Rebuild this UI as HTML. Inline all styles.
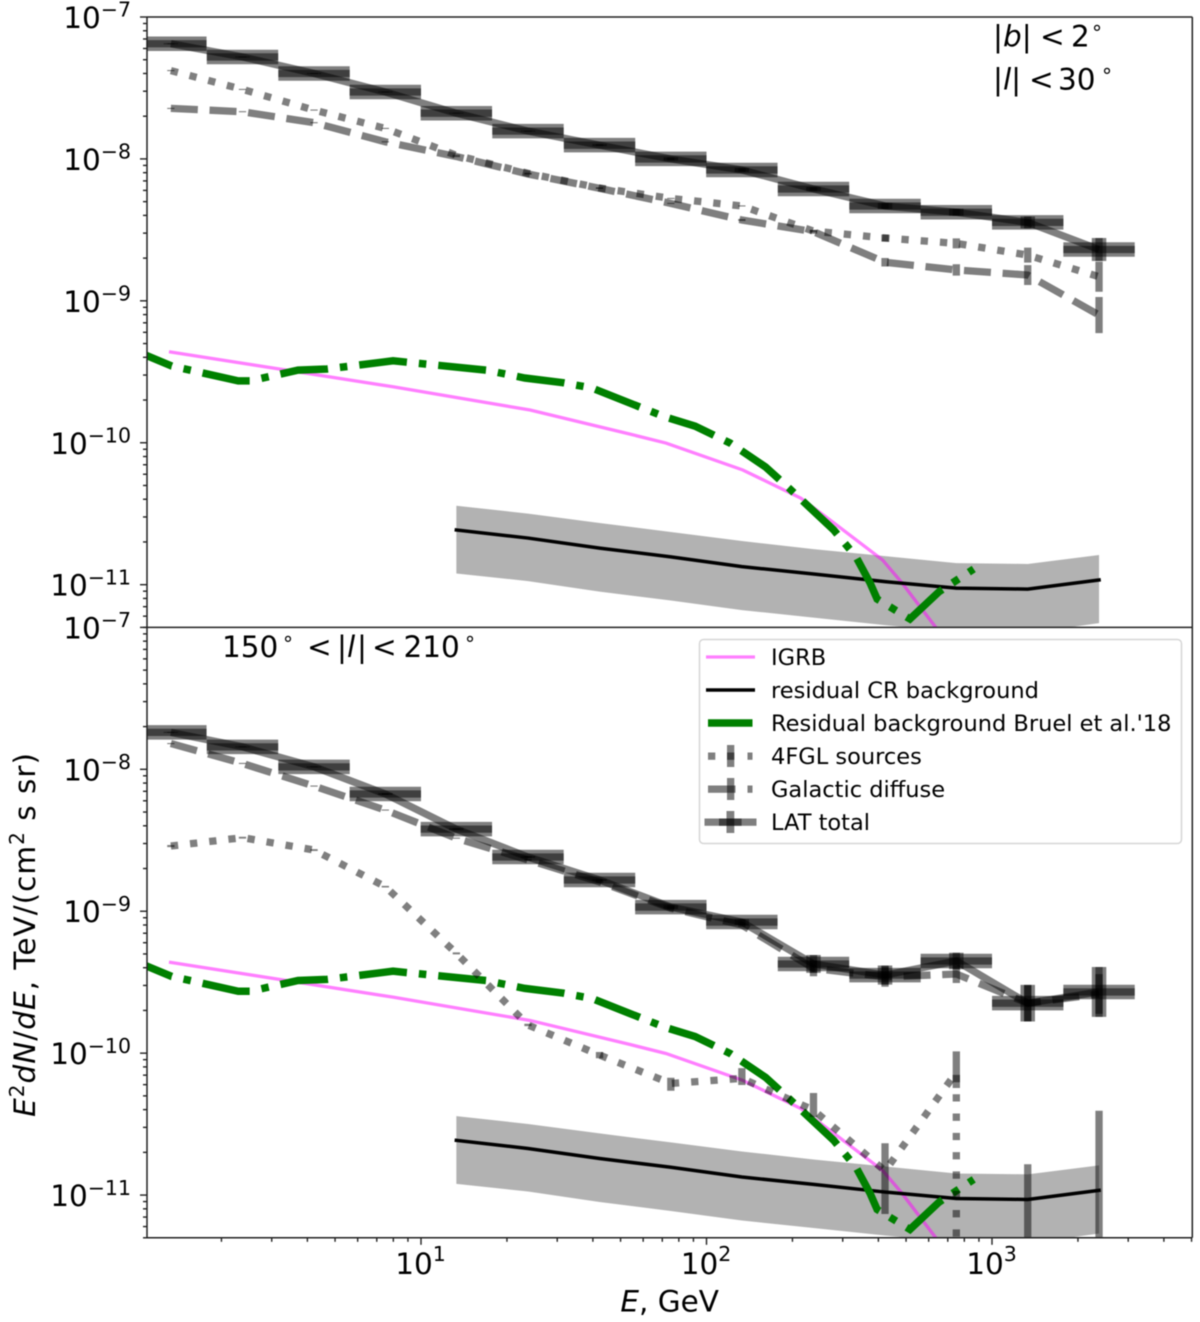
<!DOCTYPE html>
<html>
<head>
<meta charset="utf-8">
<title>LAT spectrum</title>
<style>
html,body{margin:0;padding:0;background:#fff;}
svg{display:block;filter:blur(0.4px);}
text{font-family:"DejaVu Sans","Liberation Sans",sans-serif;fill:#000;}
.i{font-style:italic;}
</style>
</head>
<body>
<svg id="chart" xmlns="http://www.w3.org/2000/svg" width="1200" height="1322" viewBox="0 0 1200 1322">
<defs>
<clipPath id="clip-top"><rect x="147" y="17" width="1045.3" height="610.4"/></clipPath>
<clipPath id="clip-bot"><rect x="147" y="627.4" width="1045.3" height="610.4"/></clipPath>
</defs>
<rect width="1200" height="1322" fill="#fff"/>
<g id="top-marks" clip-path="url(#clip-top)"></g>
<g id="bot-marks" clip-path="url(#clip-bot)"></g>
<g id="axes"></g>

<g font-size="29.5">
<text x="993" y="46.7">|<tspan class="i">b</tspan>|</text>
<text x="1040" y="46.7">&lt;</text>
<text x="1071" y="46.7">2</text>
<text x="1092" y="40" font-size="20">°</text>
<text x="993" y="89.3">|<tspan class="i">l</tspan>|</text>
<text x="1029" y="89.3">&lt;</text>
<text x="1058" y="89.3">30</text>
<text x="1102" y="83" font-size="20">°</text>
</g>
<g font-size="29.5">
<text x="222" y="656.8">150</text>
<text x="283" y="651" font-size="20">°</text>
<text x="307" y="656.8">&lt;</text>
<text x="337" y="656.8">|</text>
<text class="i" x="347" y="656.8">l</text>
<text x="357" y="656.8">|</text>
<text x="372" y="656.8">&lt;</text>
<text x="403.5" y="656.8">210</text>
<text x="465" y="651" font-size="20">°</text>
</g>

<text transform="translate(35,752) rotate(-90)" text-anchor="end" font-size="29.5" letter-spacing="1"><tspan class="i">E</tspan><tspan font-size="20" dy="-11">2</tspan><tspan class="i" dy="11">dN</tspan>/<tspan class="i">dE</tspan>, TeV/(cm<tspan font-size="20" dy="-11">2</tspan><tspan dy="11"> s sr)</tspan></text>
<text x="719" y="1311.7" text-anchor="end" font-size="29.5"><tspan class="i">E</tspan>, GeV</text>

<g>
<rect x="699.5" y="639.5" width="482" height="204" rx="4" ry="4" fill="#fff" fill-opacity="0.8" stroke="#d6d6d6" stroke-width="1.5"/>
<g>
<line x1="706" x2="755" y1="657" y2="657" stroke="#ff00ff" stroke-opacity="0.5" stroke-width="3.3"/>
<text x="771" y="665" font-size="22.5">IGRB</text>
</g>
<g>
<line x1="706" x2="755" y1="690" y2="690" stroke="#000" stroke-width="3.5"/>
<text x="771" y="698" font-size="22.5">residual CR background</text>
</g>
<g>
<line x1="708" x2="752.5" y1="723" y2="723" stroke="#008000" stroke-width="7.5"/>
<text x="771" y="731" font-size="22.5">Residual background Bruel et al.'18</text>
</g>
<g>
<rect x="708" y="752.5" width="7.3" height="7.3" fill-opacity="0.5"/>
<rect x="727" y="752.5" width="7.3" height="7.3" fill-opacity="0.5"/>
<rect x="747.5" y="752.5" width="5" height="7.3" fill-opacity="0.5"/>
<rect x="727" y="745" width="7.3" height="22" fill-opacity="0.5"/>
<text x="771" y="764" font-size="22.5">4FGL sources</text>
</g>
<g>
<rect x="708" y="785.5" width="27.5" height="7.3" fill-opacity="0.5"/>
<rect x="747.5" y="785.5" width="5" height="7.3" fill-opacity="0.5"/>
<rect x="727" y="778" width="7.3" height="22" fill-opacity="0.5"/>
<text x="771" y="797" font-size="22.5">Galactic diffuse</text>
</g>
<g>
<rect x="704.5" y="818.5" width="52" height="7.3" fill-opacity="0.5"/>
<rect x="719" y="818.5" width="22.6" height="7.3" fill-opacity="0.5"/>
<rect x="726.5" y="811" width="7.8" height="22" fill-opacity="0.5"/>
<text x="771" y="830" font-size="22.5">LAT total</text>
</g>
</g>
</svg>
<script>
// ---------- shared energies (bin centres, GeV) ----------
const energies = [1.33, 2.37, 4.22, 7.50, 13.3, 23.7, 42.2, 75.0, 133, 237, 422, 750, 1334, 2371];
const binHalfDex = 0.125;

// ---------- Galactic-plane panel ----------
const latTop = [6.48e-8, 5.23e-8, 4.00e-8, 2.96e-8, 2.10e-8, 1.57e-8, 1.25e-8, 1.00e-8, 8.36e-9, 6.14e-9, 4.66e-9, 4.21e-9, 3.57e-9, 2.30e-9];
const latTopErrDex = [0.0035, 0.0035, 0.0035, 0.0035, 0.0035, 0.0035, 0.007, 0.011, 0.014, 0.014, 0.021, 0.025, 0.042, 0.081];
const fglTop = [4.19e-8, 3.09e-8, 2.21e-8, 1.64e-8, 1.06e-8, 7.92e-9, 6.24e-9, 5.27e-9, 4.66e-9, 3.10e-9, 2.77e-9, 2.54e-9, 2.10e-9, 1.48e-9];
const fglTopErrDex = [0.004, 0.004, 0.004, 0.004, 0.004, 0.004, 0.004, 0.004, 0.004, 0.007, 0.025, 0.035, 0.053, 0.106];
const galTop = [2.27e-8, 2.15e-8, 1.80e-8, 1.32e-8, 1.04e-8, 7.83e-9, 6.21e-9, 4.86e-9, 3.71e-9, 3.07e-9, 1.87e-9, 1.65e-9, 1.52e-9, 7.94e-10];
const galTopErrDex = [0.004, 0.004, 0.004, 0.004, 0.004, 0.004, 0.004, 0.004, 0.007, 0.014, 0.03, 0.04, 0.07, 0.127];

// ---------- Outer-Galaxy panel ----------
const latBot = [1.82e-8, 1.44e-8, 1.04e-8, 6.70e-9, 3.79e-9, 2.41e-9, 1.66e-9, 1.07e-9, 8.39e-10, 4.25e-10, 3.55e-10, 4.46e-10, 2.25e-10, 2.70e-10];
const latBotErrDex = [0.0035, 0.0035, 0.0035, 0.007, 0.007, 0.007, 0.007, 0.014, 0.021, 0.063, 0.067, 0.058, 0.129, 0.176];
const galBot = [1.52e-8, 1.10e-8, 7.62e-9, 5.16e-9, 3.27e-9, 2.30e-9, 1.61e-9, 1.05e-9, 8.00e-10, 3.96e-10, 3.45e-10, 3.61e-10, 2.25e-10, 2.61e-10];
const galBotErrDex = [0.004, 0.004, 0.004, 0.004, 0.004, 0.007, 0.007, 0.007, 0.014, 0.056, 0.07, 0.063, 0.127, 0.14];
const fglBotLineE = [1.33, 2.37, 4.22, 7.50, 13.3, 23.7, 42.2, 75.0, 133, 237, 422, 750, 750];
const fglBotLine = [2.88e-9, 3.30e-9, 2.70e-9, 1.49e-9, 5.05e-10, 1.58e-10, 9.70e-11, 6.12e-11, 6.64e-11, 3.97e-11, 1.48e-11, 7.33e-11, 1e-12];
const fglBotHigh = [2.93e-9, 3.35e-9, 2.74e-9, 1.51e-9, 5.13e-10, 1.61e-10, 1.02e-10, 6.71e-11, 7.85e-11, 5.24e-11, 2.32e-11, 1.03e-10, 1.65e-11, 3.93e-11];
const fglBotLow = [2.83e-9, 3.25e-9, 2.66e-9, 1.47e-9, 4.97e-10, 1.55e-10, 9.2e-11, 5.43e-11, 5.96e-11, 3.55e-11, 7.35e-12, 5.68e-11, 1e-12, 1e-12];

// ---------- curves common to both panels ----------
const igrbE = [1.31, 7.98, 24.1, 54.0, 72.1, 134, 214, 279, 414, 480, 637, 713];
const igrb = [4.38e-10, 2.48e-10, 1.70e-10, 1.15e-10, 9.95e-11, 6.43e-11, 4.07e-11, 2.73e-11, 1.49e-11, 1.05e-11, 4.97e-12, 3.69e-12];
const crE = [13.3, 23.7, 42.2, 75.0, 133, 237, 422, 750, 1334, 2371];
const cr = [2.43e-11, 2.13e-11, 1.81e-11, 1.57e-11, 1.34e-11, 1.19e-11, 1.05e-11, 9.46e-12, 9.31e-12, 1.08e-11];
const crHigh = [3.60e-11, 3.17e-11, 2.72e-11, 2.35e-11, 2.03e-11, 1.78e-11, 1.59e-11, 1.42e-11, 1.40e-11, 1.62e-11];
const crLow = [1.20e-11, 1.06e-11, 8.94e-12, 7.73e-12, 6.62e-12, 5.86e-12, 5.19e-12, 4.67e-12, 4.56e-12, 5.36e-12];
const bruelE = [0.91, 1.34, 2.29, 2.52, 3.71, 4.69, 7.98, 16.9, 23.1, 31.4, 39.7, 54.0, 71.6, 91.2, 121, 161, 196, 279, 334, 374, 396, 516, 652, 863];
const bruel = [4.80e-10, 3.47e-10, 2.73e-10, 2.73e-10, 3.25e-10, 3.31e-10, 3.78e-10, 3.25e-10, 2.86e-10, 2.65e-10, 2.43e-10, 1.90e-10, 1.52e-10, 1.31e-10, 9.95e-11, 6.75e-11, 4.72e-11, 2.43e-11, 1.57e-11, 1.03e-11, 7.92e-12, 5.73e-12, 8.91e-12, 1.29e-11];

// ---------- tick labels ----------
const yTickExpsTop = [-7, -8, -9, -10, -11];
const yTickExpsBot = [-7, -8, -9, -10, -11];
const xTickExps = [1, 2, 3];

// ---------- axis functions ----------
const NS = 'http://www.w3.org/2000/svg';
const xLim = [1.097, 5000];
const yLim = [5e-12, 1e-7];
const panelTop = { y0: 17, h: 610.4 };
const panelBot = { y0: 627.4, h: 610.4 };
const xPx = E => 421 + (Math.log10(E) - 1) * 285.5;
const decadeH = 610.4 / (Math.log10(yLim[1]) - Math.log10(yLim[0]));
const yPx = (p, v) => p.y0 + (Math.log10(yLim[1]) - Math.log10(v)) * decadeH;

function mk(parent, tag, attrs) {
  const el = document.createElementNS(NS, tag);
  for (const k in attrs) el.setAttribute(k, attrs[k]);
  parent.appendChild(el);
  return el;
}
function pts(p, es, vs) {
  return es.map((e, i) => xPx(e).toFixed(2) + ',' + yPx(p, vs[i]).toFixed(2)).join(' ');
}

function drawShared(g, p) {
  const poly = pts(p, crE, crHigh) + ' ' + pts(p, crE.slice().reverse(), crLow.slice().reverse());
  const band = mk(g, 'polygon', { points: poly, fill: '#000', 'fill-opacity': 0.3 });
  
  

  const ig = mk(g, 'polyline', { points: pts(p, igrbE, igrb), fill: 'none', stroke: '#ff00ff', 'stroke-opacity': 0.5, 'stroke-width': 3.3 });
  
  

  const c = mk(g, 'polyline', { points: pts(p, crE, cr), fill: 'none', stroke: '#000', 'stroke-width': 3.5, 'stroke-linecap': 'square' });
  
  

  const b = mk(g, 'polyline', { points: pts(p, bruelE, bruel), fill: 'none', stroke: '#008000', 'stroke-width': 7.5, 'stroke-dasharray': '48 12 7.5 12', 'stroke-dashoffset': -4 });
  
  
}

function vBar(g, p, E, hi, lo, w, name) {
  const bar = mk(g, 'line', { x1: xPx(E), x2: xPx(E), y1: yPx(p, hi), y2: yPx(p, lo), stroke: '#000', 'stroke-opacity': 0.5, 'stroke-width': w });
  
  
}

function drawDotted(g, p, es, vs) {
  const l = mk(g, 'polyline', { points: pts(p, es, vs), fill: 'none', stroke: '#000', 'stroke-opacity': 0.5, 'stroke-width': 7.3, 'stroke-dasharray': '7.3 12' });
  
  
}
function drawDashed(g, p, es, vs) {
  const l = mk(g, 'polyline', { points: pts(p, es, vs), fill: 'none', stroke: '#000', 'stroke-opacity': 0.5, 'stroke-width': 7.3, 'stroke-dasharray': '27 11.7' });
  
  
}
function drawLat(g, p, vals, errDex) {
  const l = mk(g, 'polyline', { points: pts(p, energies, vals), fill: 'none', stroke: '#000', 'stroke-opacity': 0.5, 'stroke-width': 7.3 });
  
  
  energies.forEach((E, i) => {
    const y = yPx(p, vals[i]);
    const xa = xPx(E) - binHalfDex * 285.5;
    const xb = xPx(E) + binHalfDex * 285.5;
    const hi = vals[i] * Math.pow(10, errDex[i]);
    const lo = vals[i] / Math.pow(10, errDex[i]);
    [14.5, 7.3].forEach(w => {
      const h = mk(g, 'line', { x1: xa, x2: xb, y1: y, y2: y, stroke: '#000', 'stroke-opacity': 0.5, 'stroke-width': w });
      
      
      vBar(g, p, E, hi, lo, w, 'lat-error-bar');
    });
  });
}

const gTop = document.getElementById('top-marks');
drawShared(gTop, panelTop);
drawDotted(gTop, panelTop, energies, fglTop);
energies.forEach((E, i) => vBar(gTop, panelTop, E, fglTop[i] * Math.pow(10, fglTopErrDex[i]), fglTop[i] / Math.pow(10, fglTopErrDex[i]), 7.3, 'fgl-error-bar'));
drawDashed(gTop, panelTop, energies, galTop);
energies.forEach((E, i) => vBar(gTop, panelTop, E, galTop[i] * Math.pow(10, galTopErrDex[i]), galTop[i] / Math.pow(10, galTopErrDex[i]), 7.3, 'galactic-error-bar'));
drawLat(gTop, panelTop, latTop, latTopErrDex);

const gBot = document.getElementById('bot-marks');
drawShared(gBot, panelBot);
drawDotted(gBot, panelBot, fglBotLineE, fglBotLine);
energies.forEach((E, i) => vBar(gBot, panelBot, E, fglBotHigh[i], fglBotLow[i], 7.3, 'fgl-error-bar'));
drawDashed(gBot, panelBot, energies, galBot);
energies.forEach((E, i) => vBar(gBot, panelBot, E, galBot[i] * Math.pow(10, galBotErrDex[i]), galBot[i] / Math.pow(10, galBotErrDex[i]), 7.3, 'galactic-error-bar'));
drawLat(gBot, panelBot, latBot, latBotErrDex);

// ---------- axes ----------
const ax = document.getElementById('axes');
const xL = 147, xR = 1192.3, tickCol = '#222';

function seg(x1, y1, x2, y2, name, w) {
  const s = mk(ax, 'line', { x1: x1, y1: y1, x2: x2, y2: y2, stroke: tickCol, 'stroke-width': w });
  
  
}
seg(xL, 17, xR, 17, 'top-spine', 1.5);
seg(xR, 17, xR, 1237.8, 'right-spine', 1.5);
seg(xL, 17, xL, 1237.8, 'left-spine', 1.5);
seg(xL, 1237.8, xR, 1237.8, 'bottom-spine', 1.5);
seg(xL, 627.4, xR, 627.4, 'panel-divider', 1.5);

function yLabel(p, exp) {
  const y = yPx(p, Math.pow(10, exp));
  const t = mk(ax, 'text', { x: 131, y: y + 11, 'text-anchor': 'end', 'font-size': 29.5 });
  
  
  const a = mk(t, 'tspan', {});
  a.textContent = '10';
  const b = mk(t, 'tspan', { dy: -11.3, 'font-size': 20.5 });
  b.textContent = '\u2212' + Math.abs(exp);
}
function yTicks(p, exps) {
  for (let e = -12; e <= -8; e++) {
    for (let m = 1; m <= 9; m++) {
      const v = m * Math.pow(10, e);
      if (v < yLim[0] * 0.999 || v > yLim[1] * 1.001) continue;
      const y = yPx(p, v);
      seg(xL - (m === 1 ? 7 : 4), y, xL, y, m === 1 ? 'y-major-tick' : 'y-minor-tick', 1.4);
    }
  }
  seg(xL - 7, yPx(p, yLim[1]), xL, yPx(p, yLim[1]), 'y-major-tick', 1.4);
  exps.forEach(e => yLabel(p, e));
}
yTicks(panelTop, yTickExpsTop);
yTicks(panelBot, yTickExpsBot);

for (let e = 0; e <= 3; e++) {
  for (let m = 1; m <= 9; m++) {
    const v = m * Math.pow(10, e);
    if (v < xLim[0] || v > xLim[1]) continue;
    const x = xPx(v);
    seg(x, 1237.8, x, 1237.8 + (m === 1 ? 7 : 4), m === 1 ? 'x-major-tick' : 'x-minor-tick', 1.4);
  }
}
xTickExps.forEach(e => {
  const x = xPx(Math.pow(10, e));
  const t = mk(ax, 'text', { x: x - 0.5, y: 1274, 'text-anchor': 'middle', 'font-size': 29.5 });
  
  
  const a = mk(t, 'tspan', {});
  a.textContent = '10';
  const b = mk(t, 'tspan', { dy: -13, 'font-size': 20.5 });
  b.textContent = String(e);
});
</script>
</body>
</html>
